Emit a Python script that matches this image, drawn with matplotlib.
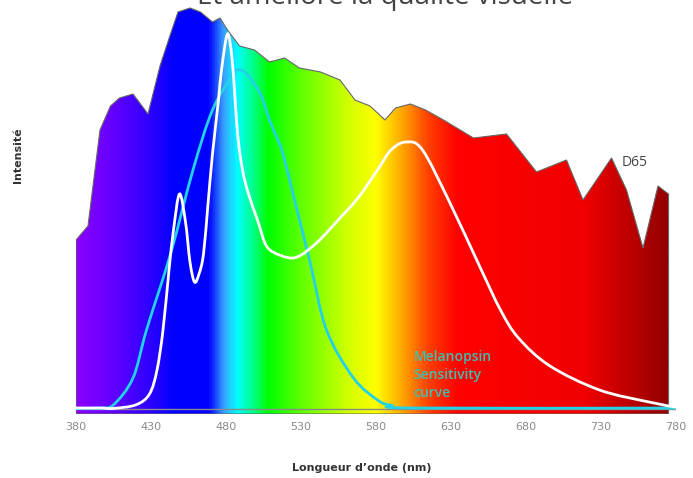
import numpy as np
import matplotlib
matplotlib.use("Agg")
import matplotlib.pyplot as plt
from matplotlib.colors import LinearSegmentedColormap
from matplotlib.patches import Polygon, PathPatch
from matplotlib.path import Path

# D65 envelope (relative intensity 0-100)
d65_nm = [380, 388, 396, 403, 409, 418, 428, 436, 443, 448, 456, 463, 471, 476,
          481, 489, 499, 509, 519, 529, 543, 556, 566, 576, 586, 593, 603, 613,
          625, 645, 667, 687, 707, 718, 737, 747, 758, 768, 775]
d65_val = [42.5, 46, 70, 76, 78, 79, 74, 86, 94, 99.5, 100.5, 99.5, 97, 98,
           95, 91, 90, 87, 88, 85.5, 84.5, 82.5, 77.5, 76, 72.5, 75.5, 76.5, 75,
           72.5, 68, 69, 59.5, 62.5, 52.5, 63, 55, 40.5, 56, 54]

# white LED spectrum
led_nm = [380, 396, 405, 420, 429, 434, 438, 442, 445, 449, 453, 456, 459, 462,
          465, 468, 471, 475, 477, 481, 484, 486, 488, 491, 495, 501, 507, 516,
          527, 541, 556, 568, 581, 590, 600, 611, 629, 649, 663, 675, 696, 729,
          762, 780]
led_val = [0.5, 0.5, 0.4, 1.3, 4, 10, 20, 35, 45, 54, 47, 37, 32, 34,
           39, 51.5, 64, 77.5, 85, 94, 88, 78, 68, 60, 54, 47.5, 41, 38.7,
           38.2, 42, 48, 53, 60, 65, 67, 65, 52, 36, 25, 18, 11, 5,
           2, 0.7]

# melanopsin sensitivity curve
mel_nm = [380, 396, 405, 418, 427, 443, 458, 471, 485, 489, 494, 503, 509, 514,
          518, 526, 536, 547, 565, 581, 590, 605, 780]
mel_val = [0.4, 0.5, 1.3, 8, 20, 39, 60, 75, 84, 85, 84, 79, 72.5, 68,
           64, 52, 37, 20, 8, 2.5, 1.2, 0.5, 0.5]

xtick_vals = [380, 430, 480, 530, 580, 630, 680, 730, 780]

# spectrum colours by wavelength
spec_nm = [380, 405, 430, 445, 468, 478, 487, 497, 508, 530, 560, 580, 597, 615,
           635, 720, 780]
spec_col = ["#8a00ff", "#6000ff", "#2a00ff", "#0000ff", "#0000ff", "#3aa0ff",
            "#00ffff", "#00ff90", "#00ff00", "#60ff00", "#ccff00", "#ffff00",
            "#ffaa00", "#ff4000", "#ff0000", "#f00000", "#8a0000"]


def smooth_path(xs, ys):
    # catmull-rom through the points, drawn as cubic bezier segments
    p = np.column_stack([xs, ys]).astype(float)
    p = np.vstack([p[0], p, p[-1]])
    verts = [p[1]]
    codes = [Path.MOVETO]
    for i in range(1, len(p) - 2):
        c1 = p[i] + (p[i + 1] - p[i - 1]) / 6.0
        c2 = p[i + 1] - (p[i + 2] - p[i]) / 6.0
        verts += [c1, c2, p[i + 1]]
        codes += [Path.CURVE4] * 3
    return Path(verts, codes)


W, H = 693, 478
fig = plt.figure(figsize=(W / 100, H / 100), dpi=100)
ax = fig.add_axes([76 / W, (H - 414) / H, 600 / W, 412 / H])
ax.set_xlim(380, 780)
ax.set_ylim(-1, 102)

cmap = LinearSegmentedColormap.from_list(
    "spec", [((n - 380) / 400, c) for n, c in zip(spec_nm, spec_col)])

verts = [(d65_nm[0], -1)] + list(zip(d65_nm, d65_val)) + [(d65_nm[-1], -1)]
outline = Polygon(verts, closed=True, facecolor="none", edgecolor="#666666",
                  lw=0.8, zorder=2)
ax.add_patch(outline)
grad = np.linspace(0, 1, 800).reshape(1, -1)
im = ax.imshow(grad, extent=[380, 780, -1, 102], aspect="auto", cmap=cmap,
               zorder=1, interpolation="bilinear")
im.set_clip_path(outline)

ax.axhline(0.3, color="#8a8a8a", lw=1.0, zorder=3)
ax.add_patch(PathPatch(smooth_path(mel_nm, mel_val), fill=False,
                       ec="#22d3e6", lw=2.0, zorder=4))
ax.add_patch(PathPatch(smooth_path(led_nm, led_val), fill=False,
                       ec="white", lw=2.0, zorder=5))

ax.text(744, 61, "D65", color="#444444", fontsize=10, family="Open Sans", zorder=6)
ax.text(605, 2.5, "Melanopsin\nSensitivity\ncurve", color="#3fbfae", fontsize=10,
        family="Open Sans", fontweight="semibold", linespacing=1.35,
        va="bottom", zorder=6)

ax.set_xticks(xtick_vals)
ax.set_xticklabels([str(v) for v in xtick_vals])
ax.tick_params(axis="x", length=0, pad=6, labelsize=8, labelcolor="#8a8a8a")
ax.set_yticks([])
for s in ax.spines.values():
    s.set_visible(False)

fig.text(18 / W, 1 - 155 / H, "Intensité", rotation=90, ha="center", va="center",
         fontsize=8, fontweight="bold", color="#333333")
fig.text(362 / W, 1 - 468 / H, "Longueur d’onde (nm)", ha="center", va="center",
         fontsize=8, fontweight="bold", color="#333333")
# the heading sits mostly above the picture, as in the original
fig.text(385 / W, 1 - 4 / H, "Et améliore la qualité visuelle", ha="center",
         va="baseline", fontsize=20, color="#444444", family="Open Sans")

fig.savefig("out.png", dpi=100)
